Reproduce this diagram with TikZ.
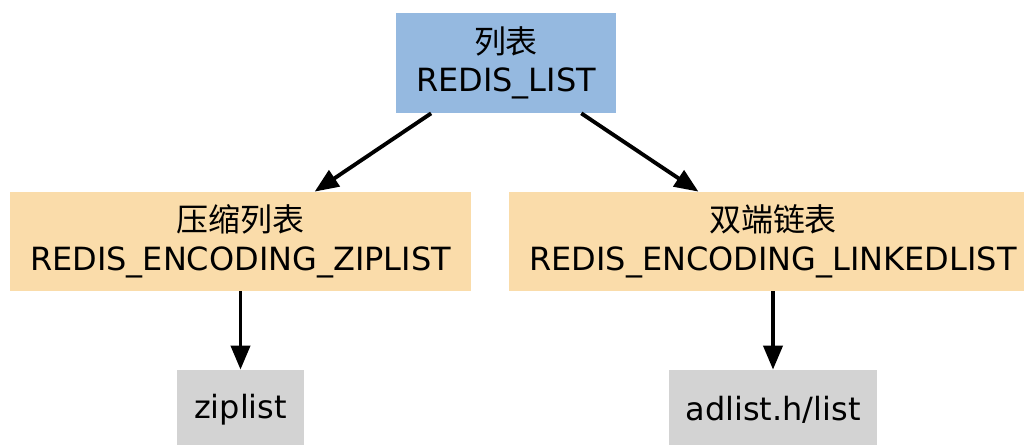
\documentclass[tikz,border=0pt]{standalone}
\usepackage{fontspec}
\setmainfont{DejaVu Sans}
\newfontfamily\cjk{Noto Sans CJK SC}
\usetikzlibrary{arrows.meta}

\definecolor{typeblue}{HTML}{95B9E0}
\definecolor{encorange}{HTML}{FADCAA}
\definecolor{implgray}{HTML}{D3D3D3}

\begin{document}
\begin{tikzpicture}[>={Triangle[length=4.8mm, width=3.8mm]},
  r/.style={inner sep=0pt, align=center, font=\fontsize{18.2}{22}\selectfont},
  e/.style={->, line width=2.2pt}]
\useasboundingbox (0,0) rectangle (20.48,-8.9);
\node[r, fill=typeblue, minimum width=4.4cm, minimum height=2cm] (list) at (10.12,-1.26) {{\cjk 列表}\\REDIS\_LIST};
\node[r, fill=encorange, minimum width=9.22cm, minimum height=1.98cm] (zl) at (4.81,-4.83) {{\cjk 压缩列表}\\REDIS\_ENCODING\_ZIPLIST};
\node[r, fill=encorange, minimum width=10.56cm, minimum height=1.98cm] (ll) at (15.46,-4.83) {{\cjk 双端链表}\\REDIS\_ENCODING\_LINKEDLIST};
\node[r, fill=implgray, minimum width=2.54cm, minimum height=1.6cm] (zip) at (4.81,-8.2) {ziplist};
\node[r, fill=implgray, minimum width=4.16cm, minimum height=1.6cm] (adl) at (15.46,-8.2) {adlist.h/list};
\draw[e] (list) -- (zl); \draw[e] (list) -- (ll);
\draw[e] (zl) -- (zip);
\draw[e] (ll) -- (adl);
\end{tikzpicture}
\end{document}
